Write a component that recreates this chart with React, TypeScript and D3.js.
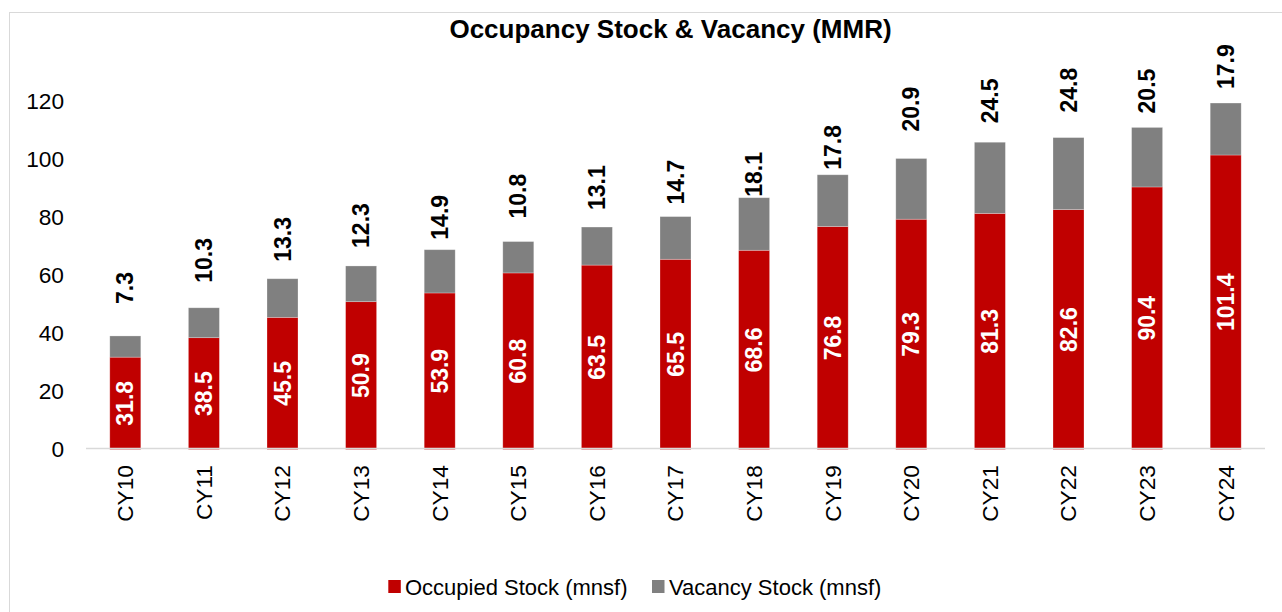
import React from "react";
import * as d3 from "d3";

const categories = ["CY10","CY11","CY12","CY13","CY14","CY15","CY16","CY17","CY18","CY19","CY20","CY21","CY22","CY23","CY24"];
const occupied = [31.8,38.5,45.5,50.9,53.9,60.8,63.5,65.5,68.6,76.8,79.3,81.3,82.6,90.4,101.4];
const vacancy = [7.3,10.3,13.3,12.3,14.9,10.8,13.1,14.7,18.1,17.8,20.9,24.5,24.8,20.5,17.9];
const yTicks = [0,20,40,60,80,100,120];
const seriesNames = ["Occupied Stock (mnsf)", "Vacancy Stock (mnsf)"];
const title = "Occupancy Stock & Vacancy (MMR)";

// layout: gap (px) between the top of each stack and its vacancy label
const vacancyLabelGap = [32,25,17,18,10,23,17,12,1,5,27,19,25,14,14];

const W = 1282, H = 612;
const RED = "#C00000", GRAY = "#808080";
const FONT = "Liberation Sans, Arial, sans-serif";

export default function App() {
  const x = d3.scaleBand<string>().domain(categories).range([86, 1265]).paddingInner(0.6056).paddingOuter(0.3028);
  const y = d3.scaleLinear().domain([0, 120]).range([449.5, 101]);
  const bw = x.bandwidth();
  const stack = d3.stack<any>().keys(["occ", "vac"])(
    categories.map((c, i) => ({ cat: c, occ: occupied[i], vac: vacancy[i] }))
  );
  const colors = [RED, GRAY];

  return (
    <svg width={W} height={H} style={{ position: "absolute", left: 0, top: 0, background: "#fff" }} fontFamily={FONT}>
      <rect x={9.5} y={12.5} width={W + 20} height={H + 20} fill="#fff" stroke="#d9d9d9" strokeWidth={1} />
      <text x={670.5} y={37.5} textAnchor="middle" fontSize={26} fontWeight="bold" fill="#000">{title}</text>

      {yTicks.map((t) => (
        <text key={t} x={64} y={y(t)} dy="0.35em" textAnchor="end" fontSize={22.7} fill="#000">{t}</text>
      ))}

      {stack.map((s, si) => (
        <g key={si}>
          {s.map((d, i) => (
            <rect key={i} x={x(categories[i])} y={y(d[1])} width={bw} height={y(d[0]) - y(d[1])}
              fill={colors[si]} stroke="#ffffff" strokeOpacity={0.35} strokeWidth={0.75} />
          ))}
        </g>
      ))}

      <line x1={86} x2={1265} y1={448.5} y2={448.5} stroke="#d9d9d9" strokeWidth={1.5} />

      {categories.map((c, i) => {
        const cx = (x(c) as number) + bw / 2;
        return (
          <g key={c}>
            <text transform={`translate(${cx},${y(occupied[i] / 2)}) rotate(-90)`} dy="0.35em" textAnchor="middle"
              fontSize={23} fontWeight="bold" fill="#fff">{occupied[i].toFixed(1)}</text>
            <text transform={`translate(${cx},${y(occupied[i] + vacancy[i]) - vacancyLabelGap[i]}) rotate(-90)`} dy="0.35em"
              textAnchor="start" fontSize={23} fontWeight="bold" fill="#000">{vacancy[i].toFixed(1)}</text>
            <text transform={`translate(${cx},465) rotate(-90)`} dy="0.35em" textAnchor="end" fontSize={22.7} fill="#000">{c}</text>
          </g>
        );
      })}

      <g>
        <rect x={388.3} y={580} width={12.5} height={13} fill={RED} />
        <text x={405} y={595} fontSize={22} fill="#000">{seriesNames[0]}</text>
        <rect x={652} y={580} width={12.5} height={13} fill={GRAY} />
        <text x={669} y={595} fontSize={22} fill="#000">{seriesNames[1]}</text>
      </g>
    </svg>
  );
}
